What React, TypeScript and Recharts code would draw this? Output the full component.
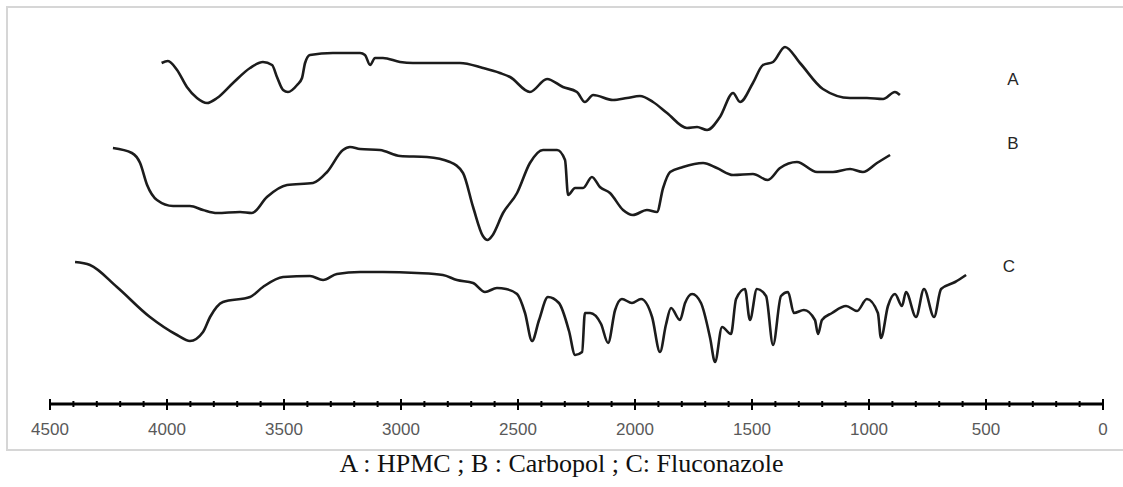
import React from 'react';
import { LineChart, Line, XAxis, YAxis, ReferenceDot } from 'recharts';

// Wavenumbers (cm-1) and relative transmittance levels (arbitrary units, vertically offset)
const hpmcWavenumbers = [4023, 3996, 3957, 3915, 3872, 3829, 3786, 3718, 3645, 3590, 3551, 3530, 3504, 3483, 3444, 3423, 3410, 3389, 3291, 3175, 3154, 3132, 3111, 3077, 3004, 2949, 2889, 2748, 2650, 2577, 2534, 2449, 2376, 2308, 2248, 2214, 2179, 2094, 2034, 1979, 1923, 1863, 1778, 1735, 1692, 1637, 1581, 1551, 1496, 1453, 1410, 1359, 1295, 1197, 1081, 1009, 940, 889, 868];
const hpmcValues = [341, 343, 334, 317, 306, 301, 306, 321, 336, 342, 339, 327, 314, 312, 319, 326, 341, 349, 351, 351, 349, 339, 346, 346, 342, 341, 341, 341, 336, 331, 327, 312, 325, 317, 312, 302, 309, 304, 306, 308, 302, 291, 276, 277, 274, 287, 311, 302, 321, 339, 342, 357, 341, 315, 306, 306, 305, 312, 309];

const carbopolWavenumbers = [4231, 4150, 4115, 4085, 4043, 3974, 3902, 3846, 3786, 3688, 3637, 3573, 3487, 3376, 3316, 3248, 3218, 3175, 3090, 3004, 2889, 2791, 2735, 2692, 2650, 2630, 2611, 2564, 2504, 2449, 2393, 2333, 2299, 2286, 2256, 2222, 2184, 2150, 2107, 2051, 2009, 1949, 1906, 1880, 1850, 1795, 1709, 1650, 1581, 1496, 1432, 1380, 1308, 1222, 1154, 1081, 1026, 966, 910];
const carbopolValues = [256, 251, 241, 219, 204, 198, 198, 194, 191, 192, 191, 207, 219, 221, 232, 254, 257, 255, 254, 248, 247, 242, 231, 197, 168, 164, 168, 191, 211, 241, 254, 254, 244, 209, 216, 216, 227, 217, 211, 194, 189, 194, 192, 216, 232, 237, 241, 236, 229, 230, 224, 236, 242, 232, 232, 235, 232, 241, 249];

const fluconazoleWavenumbers = [4393, 4329, 4214, 4073, 3957, 3902, 3846, 3816, 3761, 3645, 3590, 3504, 3389, 3333, 3274, 3175, 3077, 2932, 2821, 2761, 2692, 2641, 2590, 2551, 2504, 2470, 2440, 2410, 2372, 2325, 2282, 2256, 2226, 2214, 2192, 2145, 2115, 2085, 2056, 2013, 1974, 1927, 1893, 1868, 1846, 1808, 1786, 1756, 1718, 1679, 1658, 1628, 1590, 1568, 1530, 1509, 1479, 1440, 1410, 1376, 1346, 1321, 1278, 1231, 1218, 1201, 1158, 1098, 1051, 1009, 962, 949, 919, 889, 859, 842, 799, 765, 722, 692, 632, 585];
const fluconazoleValues = [142, 139, 117, 87, 69, 63, 72, 87, 102, 107, 117, 127, 128, 124, 130, 132, 132, 131, 129, 124, 121, 112, 116, 115, 110, 91, 63, 84, 107, 101, 73, 49, 52, 91, 91, 80, 61, 94, 105, 101, 105, 87, 52, 79, 96, 84, 101, 110, 101, 66, 42, 77, 70, 105, 115, 84, 115, 108, 59, 108, 112, 91, 94, 84, 70, 84, 91, 98, 93, 105, 91, 66, 98, 110, 98, 112, 87, 115, 87, 115, 122, 129];

const axisTicks = [4500, 4400, 4300, 4200, 4100, 4000, 3900, 3800, 3700, 3600, 3500, 3400, 3300, 3200, 3100, 3000, 2900, 2800, 2700, 2600, 2500, 2400, 2300, 2200, 2100, 2000, 1900, 1800, 1700, 1600, 1500, 1400, 1300, 1200, 1100, 1000, 900, 800, 700, 600, 500, 400, 300, 200, 100, 0];
const majorStep = 500;

const seriesLabels = ['A', 'B', 'C'];
const labelWavenumbers = [385, 385, 402];
const labelValues = [325, 261, 138];
const caption = 'A : HPMC ; B : Carbopol ; C: Fluconazole';

const build = (ws: number[], vs: number[]) => ws.map((w, i) => ({ w, v: vs[i] }));
const hpmcData = build(hpmcWavenumbers, hpmcValues);
const carbopolData = build(carbopolWavenumbers, carbopolValues);
const fluconazoleData = build(fluconazoleWavenumbers, fluconazoleValues);
const seriesData = [hpmcData, carbopolData, fluconazoleData];

const AxisTick = (props: any) => {
  const { x, y, payload } = props;
  const val = payload.value;
  const major = val % majorStep === 0;
  return (
    <g>
      <line x1={x} x2={x} y1={major ? y - 5 : y - 3} y2={major ? y + 6 : y + 3} stroke="#000" strokeWidth={2} />
      {major && (
        <text x={x} y={y + 31} textAnchor="middle" fill="#595959" fontSize={17} fontFamily="'Liberation Sans', Arial, sans-serif">
          {val}
        </text>
      )}
    </g>
  );
};

export default function App() {
  return (
    <div style={{ position: 'relative', width: 1107, height: 470 }}>
      <div style={{ position: 'absolute', left: 0, top: 0 }}>
        <LineChart width={1107} height={440} margin={{ top: 0, right: 12, bottom: 0, left: 42 }}>
          <XAxis
            dataKey="w"
            type="number"
            domain={[0, 4500]}
            reversed
            ticks={axisTicks}
            interval={0}
            tickSize={0}
            tickMargin={0}
            height={44}
            axisLine={{ stroke: '#000', strokeWidth: 3 }}
            tickLine={false}
            tick={<AxisTick />}
            allowDataOverflow
          />
          <YAxis hide type="number" domain={[0, 396]} allowDataOverflow />
          {seriesData.map((d, i) => (
            <Line
              key={seriesLabels[i]}
              data={d}
              dataKey="v"
              type="monotone"
              stroke="#1c1c1c"
              strokeWidth={2.6}
              dot={false}
              activeDot={false}
              isAnimationActive={false}
            />
          ))}
          {seriesLabels.map((s, i) => (
            <ReferenceDot
              key={'lbl' + s}
              x={labelWavenumbers[i]}
              y={labelValues[i]}
              r={1}
              fill="none"
              stroke="none"
              label={{ value: s, position: 'center', fill: '#262626', fontSize: 17, fontFamily: "'Liberation Sans', Arial, sans-serif" }}
            />
          ))}
        </LineChart>
      </div>
      <div
        style={{
          position: 'fixed',
          left: 6,
          top: 6,
          width: 1130,
          height: 445,
          border: '2px solid #d6d6d6',
          boxSizing: 'border-box',
          zIndex: 5,
          pointerEvents: 'none',
        }}
      />
      <div
        style={{
          position: 'absolute',
          left: 0,
          top: 441,
          width: 1107,
          textAlign: 'center',
          fontFamily: "'Liberation Serif', 'Times New Roman', serif",
          fontSize: 26,
          color: '#111',
          whiteSpace: 'nowrap',
        }}
      >
        {caption}
      </div>
    </div>
  );
}
